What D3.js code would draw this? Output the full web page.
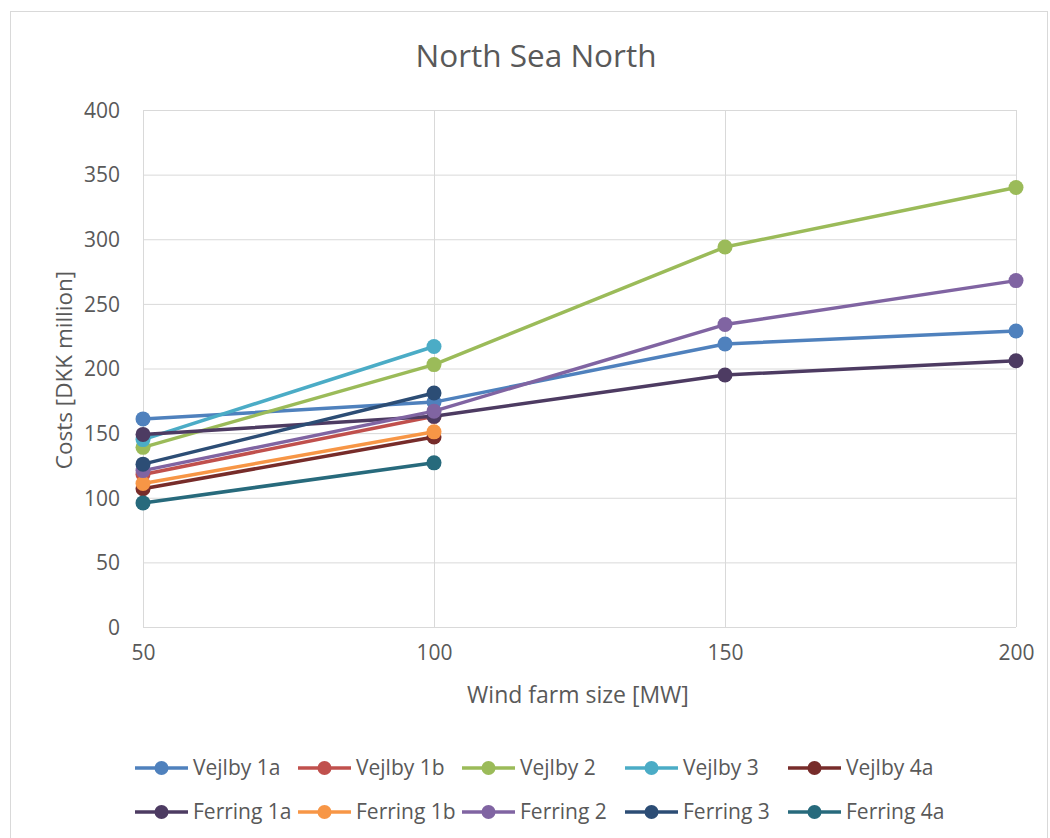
<!DOCTYPE html>
<html>
<head>
<meta charset="utf-8">
<script src="https://cdn.jsdelivr.net/npm/d3@7"></script>
<style>
  html, body { margin: 0; padding: 0; background: #fff; }
  svg { display: block; }
  text { font-family: "Open Sans", "Noto Sans", sans-serif; fill: #595959; }
</style>
</head>
<body>
<svg id="chart" width="1050" height="838"></svg>
<script>
// Wind farm sizes (MW) on the x axis
const sizes = [50, 100, 150, 200];

// Cable connection costs per site, DKK million
const vejlby1a = [161, 174, 219, 229];
const vejlby1b = [118, 163];
const vejlby2  = [139, 203, 294, 340];
const vejlby3  = [145, 217];
const vejlby4a = [107, 147];
const ferring1a = [149, 163, 195, 206];
const ferring1b = [111, 151];
const ferring2  = [121, 167, 234, 268];
const ferring3  = [126, 181];
const ferring4a = [96, 127];

const seriesNames = ["Vejlby 1a", "Vejlby 1b", "Vejlby 2", "Vejlby 3", "Vejlby 4a",
                     "Ferring 1a", "Ferring 1b", "Ferring 2", "Ferring 3", "Ferring 4a"];
const seriesValues = [vejlby1a, vejlby1b, vejlby2, vejlby3, vejlby4a,
                      ferring1a, ferring1b, ferring2, ferring3, ferring4a];
const seriesColors = ["#4F81BD", "#C0504D", "#9BBB59", "#4BACC6", "#772C2A",
                      "#4D3B62", "#F79646", "#8064A2", "#2C4D75", "#276A7C"];

const yTicks = [0, 50, 100, 150, 200, 250, 300, 350, 400];

const series = seriesNames.map((name, i) => ({
  name,
  color: seriesColors[i],
  points: seriesValues[i].map((v, j) => ({ x: sizes[j], y: v }))
}));

const svg = d3.select("#chart");

// outer chart frame
svg.append("rect")
  .attr("x", 10.5).attr("y", 11.5)
  .attr("width", 1037).attr("height", 840)
  .attr("fill", "#fff").attr("stroke", "#d9d9d9").attr("stroke-width", 1);

const x = d3.scaleLinear().domain([50, 200]).range([143, 1016]);
const y = d3.scaleLinear().domain([0, 400]).range([627, 110]);

// horizontal gridlines
svg.append("g")
  .attr("transform", `translate(${x(50)},0)`)
  .call(d3.axisLeft(y).tickValues(yTicks).tickSize(-(x(200) - x(50))).tickFormat(""))
  .call(g => g.select(".domain").remove())
  .call(g => g.selectAll("line").attr("stroke", "#d9d9d9").attr("stroke-width", 1));

// vertical gridlines
svg.append("g")
  .attr("transform", `translate(0,${y(0)})`)
  .call(d3.axisBottom(x).tickValues(sizes).tickSize(-(y(0) - y(400))).tickFormat(""))
  .call(g => g.select(".domain").remove())
  .call(g => g.selectAll("line").attr("stroke", "#d9d9d9").attr("stroke-width", 1));

// y tick labels
svg.append("g")
  .attr("transform", `translate(120,0)`)
  .call(d3.axisLeft(y).tickValues(yTicks).tickSize(0).tickPadding(0))
  .call(g => g.select(".domain").remove())
  .call(g => g.selectAll("text").attr("font-size", 21).attr("dy", "0.35em"));

// x tick labels
svg.append("g")
  .attr("transform", `translate(0,${y(0) + 21})`)
  .call(d3.axisBottom(x).tickValues(sizes).tickSize(0).tickPadding(0))
  .call(g => g.select(".domain").remove())
  .call(g => g.selectAll("text").attr("font-size", 21).attr("dy", "0.55em"));

// title
svg.append("text")
  .attr("x", 536).attr("y", 67)
  .attr("text-anchor", "middle")
  .attr("font-size", 31.5)
  .text("North Sea North");

// axis titles
svg.append("text")
  .attr("x", 578).attr("y", 703)
  .attr("text-anchor", "middle")
  .attr("font-size", 23)
  .text("Wind farm size [MW]");

svg.append("text")
  .attr("transform", `translate(72,370) rotate(-90)`)
  .attr("text-anchor", "middle")
  .attr("font-size", 22.5)
  .text("Costs [DKK million]");

const line = d3.line().x(d => x(d.x)).y(d => y(d.y));

// series: line then markers, drawn in order
const sg = svg.append("g").selectAll("g").data(series).join("g");
sg.append("path")
  .attr("d", d => line(d.points))
  .attr("fill", "none")
  .attr("stroke", d => d.color)
  .attr("stroke-width", 3.5)
  .attr("stroke-linejoin", "round")
  .attr("stroke-linecap", "round");
sg.selectAll("circle")
  .data(d => d.points.map(p => ({ ...p, color: d.color })))
  .join("circle")
  .attr("cx", d => x(d.x))
  .attr("cy", d => y(d.y))
  .attr("r", 7.5)
  .attr("fill", d => d.color);

// legend: two rows of five
const legendX = [135, 298, 462, 625, 788];
const legendY = [768, 812];
const lg = svg.append("g").selectAll("g").data(series).join("g")
  .attr("transform", (d, i) => `translate(${legendX[i % 5]},${legendY[Math.floor(i / 5)]})`);
lg.append("line")
  .attr("x1", 0).attr("x2", 53)
  .attr("stroke", d => d.color).attr("stroke-width", 3.5);
lg.append("circle")
  .attr("cx", 26.5).attr("r", 7)
  .attr("fill", d => d.color);
lg.append("text")
  .attr("x", 58).attr("dy", "0.35em")
  .attr("font-size", 21)
  .text(d => d.name);
</script>
</body>
</html>
